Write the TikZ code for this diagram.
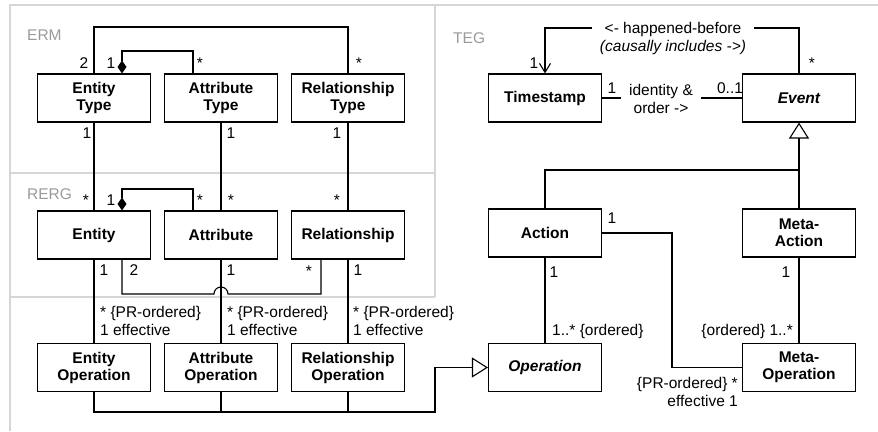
\documentclass[tikz,border=0pt]{standalone}
\usepackage{fontspec}
\setmainfont{Liberation Sans}
\usetikzlibrary{arrows.meta,calc}
\definecolor{framegray}{HTML}{D6D6D6}
\definecolor{labelgray}{HTML}{9A9A9A}
\begin{document}
\begin{tikzpicture}[x=1pt,y=1pt,
  every node/.style={font=\fontsize{15.5}{17}\selectfont, inner sep=0pt},
  cls/.style={draw, line width=1.1pt, minimum width=113pt, minimum height=48pt,
    align=center, font=\fontsize{15.5}{17}\selectfont\bfseries},
  absclass/.style={cls, font=\fontsize{15.5}{17}\selectfont\bfseries\itshape},
  conn/.style={line width=1.1pt},
  framerule/.style={draw=framegray, line width=1.5pt},
  regionlabel/.style={text=labelgray, anchor=west},
  mult/.style={anchor=base},
  multl/.style={anchor=base west},
  multr/.style={anchor=base east},
  gen/.style={conn, -{Triangle[open, length=16pt, width=20pt, line width=1.1pt]}},
  comp/.style={conn, {Diamond[length=13pt, width=9pt]}-},
  nav/.style={conn, -{Straight Barb[length=9pt, width=11pt, line width=1.1pt]}},
  assoclabel/.style={fill=white, align=center, inner xsep=8pt, inner ysep=1pt,
    font=\fontsize{15.5}{18}\selectfont},
]
\useasboundingbox (0,0) rectangle (878,-431);

% package frames
\draw[framerule] (878,-5) -- (10,-5) -- (10,-431);
\draw[framerule] (435,-5) -- (435,-297);
\draw[framerule] (10,-173) -- (435,-173);
\draw[framerule] (10,-297) -- (435,-297);
\node[regionlabel] (erm) at (27,-35) {ERM};
\node[regionlabel] (rerg) at (27,-194) {RERG};
\node[regionlabel] (teg) at (453,-38) {TEG};

% ERM classes
\node[cls] (et) at (94,-98) {Entity\\Type};
\node[cls] (at) at (221,-98) {Attribute\\Type};
\node[cls] (rt) at (348,-98) {Relationship\\Type};

% RERG classes
\node[cls] (e) at (94,-235) {Entity};
\node[cls] (a) at (221,-235) {Attribute};
\node[cls] (r) at (348,-235) {Relationship};

% operation classes
\node[cls] (eo) at (94,-367.5) {Entity\\Operation};
\node[cls] (ao) at (221,-367.5) {Attribute\\Operation};
\node[cls] (ro) at (348,-367.5) {Relationship\\Operation};

% TEG classes
\node[cls] (ts) at (545,-98) {Timestamp};
\node[absclass] (ev) at (799,-98) {Event};
\node[cls] (ac) at (545,-233) {Action};
\node[cls] (ma) at (799,-233) {Meta-\\Action};
\node[absclass] (op) at (545,-367.5) {Operation};
\node[cls] (mo) at (799,-367.5) {Meta-\\Operation};

% ERM associations
\draw[conn] (et.north) -- (et.north |- 0,-27) -| (rt.north);
\draw[comp] ([xshift=28pt]et.north) -- ([xshift=28pt]et.north |- 0,-51) -| ([xshift=-28pt]at.north);
\node[mult] (m1) at (84,-68) {2};
\node[mult] (m2) at (111,-68) {1};
\node[mult] (m3) at (200,-68) {*};
\node[mult] (m4) at (359,-68) {*};

% ERM to RERG
\draw[conn] (et.south) -- (e.north);
\draw[conn] (at.south) -- (a.north);
\draw[conn] (rt.south) -- (r.north);
\node[mult] (m5) at (87,-138) {1};
\node[mult] (m6) at (231,-138) {1};
\node[mult] (m7) at (337,-138) {1};
\node[mult] (m8) at (86,-205) {*};
\node[mult] (m10) at (231,-205) {*};
\node[mult] (m11) at (337,-205) {*};

% RERG associations
\draw[comp] ([xshift=28pt]e.north) -- ([xshift=28pt]e.north |- 0,-189) -| ([xshift=-28pt]a.north);
\node[mult] (m9) at (111,-205) {1};
\node[mult] (m12) at (200,-205) {*};
\draw[conn] ([xshift=28pt]e.south) |- (214,-294) arc[start angle=180, end angle=0, radius=7pt]
  -- ([xshift=-27pt]r.south |- 0,-294) -- ([xshift=-27pt]r.south);
\node[mult] (m13) at (104,-275) {1};
\node[mult] (m14) at (134,-275) {2};
\node[mult] (m15) at (231,-275) {1};
\node[mult] (m16) at (309,-276) {*};
\node[mult] (m17) at (358,-275) {1};

% RERG to operations
\draw[conn] (e.south) -- (eo.north);
\draw[conn] (a.south) -- (ao.north);
\draw[conn] (r.south) -- (ro.north);
\node[multl] (p1) at (100,-317) {* \{PR-ordered\}};
\node[multl] (q1) at (100,-335) {1 effective};
\node[multl] (p2) at (227,-317) {* \{PR-ordered\}};
\node[multl] (q2) at (227,-335) {1 effective};
\node[multl] (p3) at (353,-317) {* \{PR-ordered\}};
\node[multl] (q3) at (353,-335) {1 effective};

% operations generalise to Operation
\coordinate (bus) at (435,-412);
\draw[gen] (eo.south) |- (bus) |- (op.west);
\draw[conn] (ao.south) -- (ao.south |- bus);
\draw[conn] (ro.south) -- (ro.south |- bus);

% TEG associations
\draw[nav] (ev.north) -- (ev.north |- 0,-28) -| (ts.north);
\node[assoclabel] (hb) at (673,-38.5) {<- happened-before\\\textit{(causally includes ->)}};
\node[mult] (t1) at (534,-68) {1};
\node[mult] (t2) at (812,-68) {*};

\draw[conn] (ts.east) -- (ev.west);
\node[assoclabel] (io) at (661,-99) {identity \&\\order ->};
\node[mult] (t3) at (612,-93) {1};
\node[mult] (t4) at (730,-93) {0..1};

% Action and Meta-Action generalise to Event
\draw[gen] (ac.north) |- (ev.south |- 0,-170) -- (ev.south);
\draw[conn] (ma.north) -- (ma.north |- 0,-170);

% actions to operations
\draw[conn] (ac.south) -- (op.north);
\node[mult] (t5) at (554,-277) {1};
\node[multl] (t6) at (552,-335) {1..* \{ordered\}};
\draw[conn] (ma.south) -- (mo.north);
\node[mult] (t7) at (786,-277) {1};
\node[multr] (t8) at (793,-335) {\{ordered\} 1..*};
\draw[conn] (ac.east) -| (672,-367.5) -- (mo.west);
\node[mult] (t9) at (612,-223) {1};
\node[multr] (t10) at (738,-388) {\{PR-ordered\} *};
\node[multr] (t11) at (738,-406) {effective 1};
\end{tikzpicture}
\end{document}
